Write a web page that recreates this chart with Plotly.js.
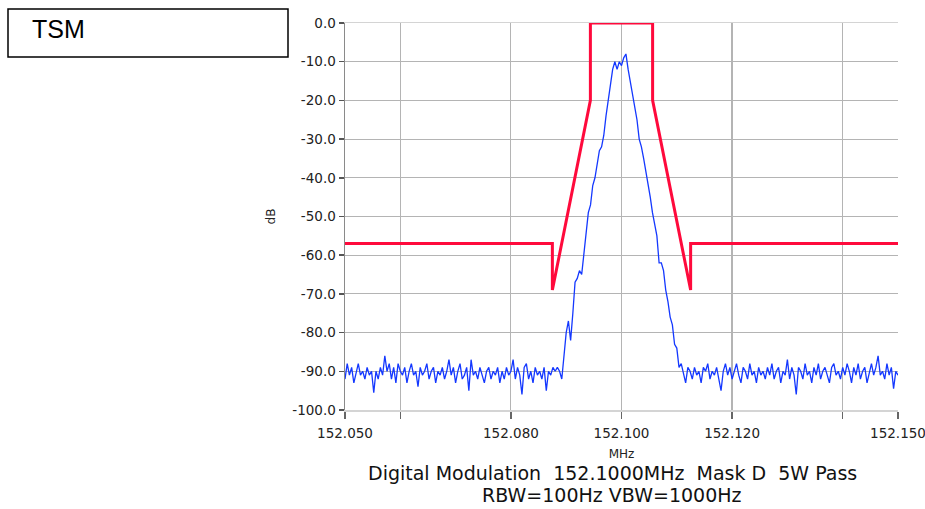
<!DOCTYPE html>
<html><head><meta charset="utf-8">
<script src="https://cdn.plot.ly/plotly-3.0.1.min.js"></script>
<style>html,body{margin:0;padding:0;background:#fff}#chart{width:925px;height:509px}</style>
</head><body><div id="chart"></div>
<script>
// Sweep grid of the measured trace (MHz)
const sweepStartMHz = 152.050;
const sweepStepMHz = 0.0004;

const noiseLeft = [
  -92, -88, -91, -89, -93, -90, -88, -91, -90, -92,
  -89, -91, -90, -95.5, -90, -92, -89, -91, -86, -90,
  -88, -92, -89, -93, -88, -90, -91, -89, -93, -90,
  -88, -91, -90, -94, -89, -91, -90, -88, -92, -90,
  -89, -93, -90, -91, -89, -92, -90, -87, -91, -89,
  -93, -90, -88, -92, -91, -89, -95, -87, -91, -90,
  -92, -89, -91, -93, -90, -89, -92, -90, -91, -89,
  -93, -90, -92, -89, -91, -90, -87, -92, -89, -91,
  -96, -89, -88, -92, -90, -93, -89, -91, -90, -92,
  -89, -95, -90, -91, -89, -90, -89, -90
];
const signalCore = [
  -92, -85, -80, -77, -82, -75, -67, -66, -64, -65,
  -60, -55, -49, -47, -42, -40, -37, -33, -32, -29,
  -24, -20, -16, -12, -10, -12, -10, -11, -9, -8,
  -12, -15, -19, -22, -25, -30, -32, -35, -38, -41,
  -45, -49, -52, -55, -62, -62, -64, -69, -72, -76,
  -78, -83, -84, -89
];
const noiseRight = [
  -88, -91, -93, -89, -90, -92, -89, -91, -90, -93,
  -89, -90, -88, -92, -90, -91, -89, -92, -95, -90,
  -88, -91, -89, -92, -90, -88, -91, -93, -89, -90,
  -92, -88, -91, -90, -93, -89, -91, -90, -92, -89,
  -91, -88, -92, -90, -89, -93, -90, -91, -87, -92,
  -89, -91, -96, -89, -90, -92, -88, -91, -90, -93,
  -89, -91, -88, -92, -90, -89, -91, -93, -89, -88,
  -91, -90, -92, -89, -91, -88, -90, -93, -89, -91,
  -88, -92, -90, -89, -93, -90, -88, -91, -89, -86,
  -91, -90, -92, -88, -91, -89, -94.5, -90, -91
];

// Emission mask D (5 W)
const maskFreq  = [152.050, 152.0875, 152.0875, 152.094375, 152.094375, 152.105625, 152.105625, 152.1125, 152.1125, 152.150];
const maskLevel = [-57, -57, -69, -20, 0, 0, -20, -69, -57, -57];

// Axis ticks
const xTickVals = [152.050, 152.060, 152.080, 152.100, 152.120, 152.140, 152.150];
const xTickText = ['152.050', '', '152.080', '152.100', '152.120', '', '152.150'];
const yTickVals = [0, -10, -20, -30, -40, -50, -60, -70, -80, -90, -100];
const yTickText = ['0.0', '-10.0', '-20.0', '-30.0', '-40.0', '-50.0', '-60.0', '-70.0', '-80.0', '-90.0', '-100.0'];

const traceLevel = noiseLeft.concat(signalCore, noiseRight);
const traceFreq = traceLevel.map((_, i) => +(sweepStartMHz + i * sweepStepMHz).toFixed(4));

// plot-area pixel geometry
const L = 345, R = 898, T = 23, B = 410;
const px = x => (x - L) / (R - L);
const py = y => (B - y) / (B - T);

const font = 'DejaVu Sans, Verdana, sans-serif';

const data = [
  {x: traceFreq, y: traceLevel, type: 'scatter', mode: 'lines',
   line: {color: '#1438ff', width: 1.3}, hoverinfo: 'x+y', showlegend: false},
  {x: maskFreq, y: maskLevel, type: 'scatter', mode: 'lines',
   line: {color: '#ff0a3c', width: 3}, showlegend: false}
];

const layout = {
  width: 925, height: 509,
  margin: {l: L, r: 925 - R, t: T, b: 509 - B, pad: 0},
  paper_bgcolor: '#ffffff', plot_bgcolor: '#ffffff',
  font: {family: font, size: 12, color: '#222'},
  showlegend: false,
  xaxis: {
    range: [152.050, 152.150], tickmode: 'array', tickvals: xTickVals, ticktext: xTickText,
    ticks: 'outside', ticklen: 7, tickwidth: 1.5, tickcolor: '#666', ticklabelstandoff: 3,
    ticklabeloverflow: 'allow',
    showgrid: true, gridcolor: '#b4b4b4', gridwidth: 1.2,
    showline: true, linecolor: '#d4d4d4', linewidth: 1.5, mirror: true,
    zeroline: false, tickfont: {family: font, size: 13.5, color: '#222'},
    title: {text: 'MHz', font: {family: font, size: 12, color: '#222'}, standoff: 10}
  },
  yaxis: {
    range: [-100, 0], tickmode: 'array', tickvals: yTickVals, ticktext: yTickText,
    ticks: 'outside', ticklen: 5, tickwidth: 1.5, tickcolor: '#555',
    ticklabeloverflow: 'allow',
    showgrid: true, gridcolor: '#b4b4b4', gridwidth: 1.2,
    showline: true, linecolor: '#8a8a8a', linewidth: 1.5,
    zeroline: false, tickfont: {family: font, size: 13.5, color: '#222'},
    title: {text: 'dB', font: {family: font, size: 12, color: '#222'}, standoff: 14}
  },
  shapes: [
    {type: 'rect', xref: 'paper', yref: 'paper', x0: px(8), x1: px(288), y0: py(57), y1: py(9),
     line: {color: '#000', width: 1.5}, fillcolor: 'rgba(0,0,0,0)'}
  ],
  annotations: [
    {xref: 'paper', yref: 'paper', x: px(30), y: py(13), xanchor: 'left', yanchor: 'top',
     text: 'TSM', showarrow: false, font: {family: 'Liberation Sans, Arial, sans-serif', size: 25, color: '#000'}},
    {xref: 'paper', yref: 'paper', x: px(612), y: py(473), xanchor: 'center', yanchor: 'middle',
     text: 'Digital Modulation\u00a0 152.1000MHz\u00a0 Mask D\u00a0 5W Pass', showarrow: false,
     font: {family: font, size: 19, color: '#111'}},
    {xref: 'paper', yref: 'paper', x: px(612), y: py(495), xanchor: 'center', yanchor: 'middle',
     text: 'RBW=100Hz VBW=1000Hz', showarrow: false,
     font: {family: font, size: 19, color: '#111'}}
  ]
};

Plotly.newPlot('chart', data, layout, {displayModeBar: false, staticPlot: true});
</script>
</body></html>
